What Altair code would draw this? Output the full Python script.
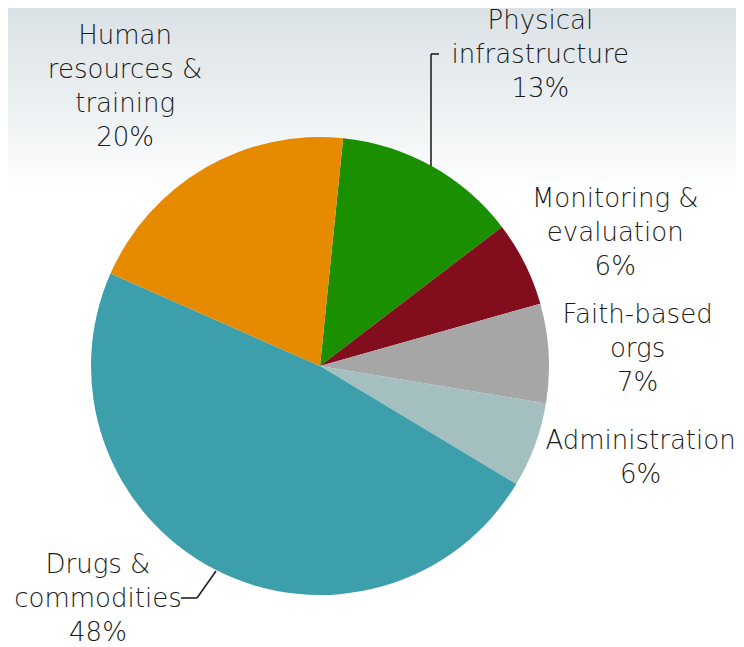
import math
import altair as alt
import pandas as pd

# ---- data ----
categories = ["Physical infrastructure", "Monitoring & evaluation", "Faith-based orgs",
              "Administration", "Drugs & commodities", "Human resources & training"]
label_names = ["Physical|infrastructure", "Monitoring &|evaluation", "Faith-based|orgs",
               "Administration", "Drugs &|commodities", "Human|resources &|training"]
shares = [13, 6, 7, 6, 48, 20]
colors = ["#1A8F00", "#820D1C", "#A6A6A6", "#A3BFBF", "#3E9FAC", "#E68A00"]

df = pd.DataFrame({
    "category": categories,
    "name": label_names,
    "share": shares,
    "order": list(range(len(categories))),
})

# ---- layout / style ----
W, H = 728, 639
CX, CY = 312, 358
R = 229
LABEL_R = 300
start = math.radians(5.8)
theta_scale = alt.Scale(domain=[0, 100], range=[start, start + 2 * math.pi])
FONT = "DejaVu Sans"
TXT = "#1a1a1a"

# offsets of the first text line from the radial label anchor
label_offsets = {
    "Physical infrastructure": (74, -83),
    "Monitoring & evaluation": (27, -33),
    "Faith-based orgs": (18, -34),
    "Administration": (39, -29),
    "Drugs & commodities": (-84, -67),
    "Human resources & training": (-44, -71),
}

gradient = {
    "gradient": "linear", "x1": 0, "y1": 0, "x2": 0, "y2": 1,
    "stops": [
        {"offset": 0.0, "color": "#dbe2e6"},
        {"offset": 0.14, "color": "#eaeff1"},
        {"offset": 0.29, "color": "#ffffff"},
        {"offset": 1.0, "color": "#ffffff"},
    ],
}

one = alt.datum.order == 0

background = alt.Chart().transform_filter(one).mark_rect(fill=gradient).encode(
    x=alt.value(0), x2=alt.value(W), y=alt.value(0), y2=alt.value(H)
)

arcs = alt.Chart().mark_arc(radius=R).encode(
    theta=alt.Theta("start:Q", stack=None, scale=theta_scale),
    theta2="end:Q",
    color=alt.Color("category:N", scale=alt.Scale(domain=categories, range=colors), legend=None),
    x=alt.value(CX),
    y=alt.value(CY),
)

text_layers = []
for cat in categories:
    dx, dy = label_offsets[cat]
    text_layers.append(
        alt.Chart().transform_filter(alt.datum.category == cat).mark_text(
            radius=LABEL_R, dx=dx, dy=dy, align="center", baseline="middle",
            lineBreak="|", font=FONT, fontSize=26, fontWeight=300, lineHeight=34, color=TXT,
        ).encode(
            theta=alt.Theta("mid:Q", stack=None, scale=theta_scale),
            text="label:N",
            x=alt.value(CX),
            y=alt.value(CY),
        )
    )

rule_style = dict(color="#222222", strokeWidth=1.6)
leaders = [
    alt.Chart().transform_filter(one).mark_rule(**rule_style).encode(
        x=alt.value(423), x2=alt.value(423), y=alt.value(158), y2=alt.value(46)),
    alt.Chart().transform_filter(one).mark_rule(**rule_style).encode(
        x=alt.value(423), x2=alt.value(431), y=alt.value(46), y2=alt.value(46)),
    alt.Chart().transform_filter(one).mark_rule(**rule_style).encode(
        x=alt.value(208), x2=alt.value(189), y=alt.value(563), y2=alt.value(590)),
    alt.Chart().transform_filter(one).mark_rule(**rule_style).encode(
        x=alt.value(189), x2=alt.value(173), y=alt.value(590), y2=alt.value(590)),
]

chart = alt.layer(background, arcs, *leaders, *text_layers, data=df).transform_window(
    cum="sum(share)", sort=[alt.SortField("order")], frame=[None, 0]
).transform_calculate(
    end="datum.cum",
    start="datum.cum - datum.share",
    mid="datum.cum - datum.share / 2",
    label="datum.name + '|' + datum.share + '%'",
).properties(
    width=W, height=H, autosize="none", padding=0
).configure_view(stroke=None)

chart.save("out.html", embed_options={"renderer": "svg", "actions": False})
